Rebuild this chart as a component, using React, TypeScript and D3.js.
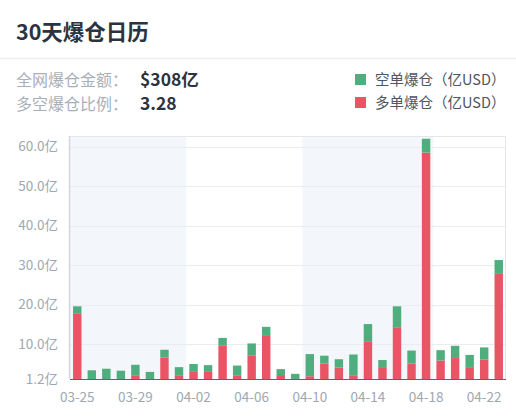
import React from 'react';
import * as d3 from 'd3';

const dates = [
  '03-25', '03-26', '03-27', '03-28', '03-29', '03-30', '03-31', '04-01', '04-02', '04-03',
  '04-04', '04-05', '04-06', '04-07', '04-08', '04-09', '04-10', '04-11', '04-12', '04-13',
  '04-14', '04-15', '04-16', '04-17', '04-18', '04-19', '04-20', '04-21', '04-22', '04-23',
];
// 多单爆仓 (long liquidations, red)
const longValues = [
  17.7, 0.8, 0.9, 0.8, 2.0, 0.7, 6.6, 2.0, 3.0, 3.0,
  9.6, 2.0, 7.2, 12.3, 2.2, 0.6, 1.9, 5.1, 4.1, 2.0,
  10.6, 4.2, 14.3, 5.1, 58.5, 5.9, 6.5, 4.2, 6.1, 27.8,
];
// 空单爆仓 (short liquidations, green)
const shortValues = [
  1.9, 2.6, 2.9, 2.5, 2.8, 2.3, 2.0, 2.2, 2.0, 1.7,
  2.0, 2.6, 3.0, 2.1, 1.5, 1.9, 5.6, 2.0, 2.1, 5.4,
  4.5, 1.8, 5.3, 3.3, 3.5, 2.6, 3.1, 3.1, 3.1, 3.5,
];
const yTicks = [1.2, 10, 20, 30, 40, 50, 60];
const xLabelDates = ['03-25', '03-29', '04-02', '04-06', '04-10', '04-14', '04-18', '04-22'];
const shadeRanges: [string, string][] = [['03-25', '04-01'], ['04-10', '04-18']];
const yDomain = [1.2, 62.7];

const title = '30天爆仓日历';
const statLabels = ['全网爆仓金额：', '多空爆仓比例：'];
const statValues = ['$308亿', '3.28'];
const legendLabels = ['空单爆仓（亿USD）', '多单爆仓（亿USD）'];

const GREEN = '#4fae7e';
const RED = '#ea5566';
const FONT = '"Noto Sans CJK SC", "Noto Sans", sans-serif';

export default function App() {
  const W = 516, H = 419;
  const plot = { left: 70, right: 506, top: 136, bottom: 379 };

  const x = d3.scaleBand<string>().domain(dates).range([plot.left, plot.right]).paddingInner(0.42).paddingOuter(0.21);
  const y = d3.scaleLinear().domain(yDomain).range([plot.bottom, plot.top]).clamp(true);
  const step = x.step();
  const bandStart = (d: string) => plot.left + dates.indexOf(d) * step;

  const rows = dates.map((d, i) => ({ date: d, long: longValues[i], short: shortValues[i] }));
  const stacked = d3.stack<any>().keys(['long', 'short'])(rows);
  const colors = [RED, GREEN];

  return (
    <svg width={W} height={H} style={{ position: 'absolute', left: 0, top: 0, background: '#fff', fontFamily: FONT }}>
      <rect x={0} y={0} width={W} height={H} fill="#fff" />
      <text x={16} y={40} fontSize={21.5} fontWeight={700} fill="#2a3340">{title}</text>
      <line x1={0} x2={W} y1={58.5} y2={58.5} stroke="#eceef1" strokeWidth={1.5} />

      {statLabels.map((s, i) => (
        <g key={s}>
          <text x={16} y={80 + i * 24} dy="0.35em" fontSize={16} fill="#a8afb9">{s}</text>
          <text x={140} y={80 + i * 24} dy="0.35em" fontSize={17.5} fontWeight={700} fill="#2a3340">{statValues[i]}</text>
        </g>
      ))}

      {legendLabels.map((s, i) => (
        <g key={s}>
          <rect x={355} y={74 + i * 23} width={11} height={11} fill={i === 0 ? GREEN : RED} />
          <text x={375} y={79.5 + i * 23} dy="0.35em" fontSize={14.5} fill="#4f5661">{s}</text>
        </g>
      ))}

      {/* background bands */}
      {shadeRanges.map(([a, b]) => (
        <rect key={a} x={bandStart(a)} y={plot.top} width={bandStart(b) + step - bandStart(a)}
          height={plot.bottom - plot.top} fill="#f3f6fa" />
      ))}

      {/* grid */}
      {yTicks.slice(1).map((t) => (
        <line key={t} x1={plot.left} x2={plot.right} y1={Math.round(y(t)) + 0.5} y2={Math.round(y(t)) + 0.5}
          stroke="#e9edf2" strokeWidth={1} />
      ))}
      <line x1={plot.left} x2={plot.right} y1={plot.top + 0.5} y2={plot.top + 0.5} stroke="#e3e6ea" />
      <line x1={plot.right - 0.5} x2={plot.right - 0.5} y1={plot.top} y2={plot.bottom} stroke="#e3e6ea" />

      {/* bars */}
      {stacked.map((series, si) => (
        <g key={series.key} fill={colors[si]}>
          {series.map((d: any, i: number) => {
            const y0 = y(d[0]);
            const y1 = y(d[1]);
            return <rect key={i} x={x(dates[i])} y={y1} width={x.bandwidth()} height={Math.max(0, y0 - y1)} />;
          })}
        </g>
      ))}

      {/* axes */}
      <line x1={plot.left - 0.5} x2={plot.left - 0.5} y1={plot.top} y2={plot.bottom} stroke="#d3d7dd" strokeWidth={1.5} />
      <line x1={plot.left} x2={plot.right} y1={plot.bottom + 0.5} y2={plot.bottom + 0.5} stroke="#5d6570" strokeWidth={1.2} />

      {yTicks.map((t) => (
        <text key={t} x={58} y={y(t)} dy="0.35em" textAnchor="end" fontSize={13.5} fill="#a0a7b1">
          {d3.format('.1f')(t)}亿
        </text>
      ))}
      {xLabelDates.map((d) => (
        <text key={d} x={(x(d) || 0) + x.bandwidth() / 2} y={397} dy="0.35em" textAnchor="middle" fontSize={13.5} fill="#a0a7b1">
          {d}
        </text>
      ))}
    </svg>
  );
}
